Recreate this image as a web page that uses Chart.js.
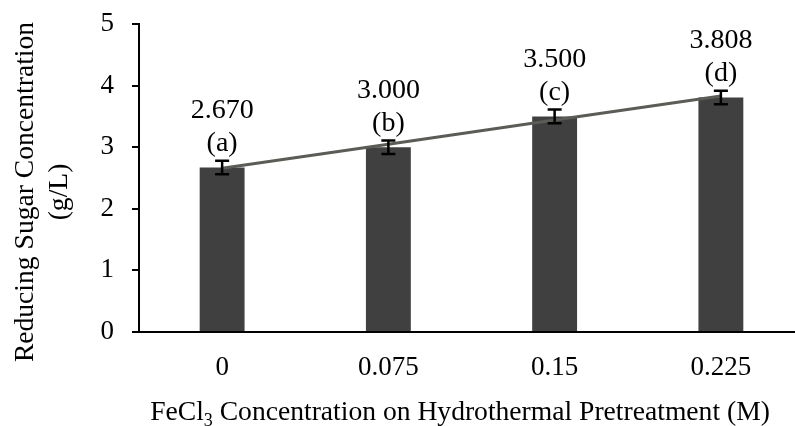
<!DOCTYPE html>
<html>
<head>
<meta charset="utf-8">
<script src="https://cdn.jsdelivr.net/npm/chart.js@4/dist/chart.umd.min.js"></script>
<style>
  html, body { margin: 0; padding: 0; background: #fff; overflow: hidden; }
  #wrap { width: 795px; height: 426px; overflow: hidden; }
</style>
</head>
<body>
<div id="wrap"><canvas id="sugarChart" width="810" height="426"></canvas></div>
<script>
// FeCl3 concentration (M) on the category axis
const categories = ['0', '0.075', '0.15', '0.225'];
// reducing sugar, g/L
const sugarValues = [2.670, 3.000, 3.500, 3.808];
const sugarErrors = [0.11, 0.11, 0.11, 0.11];
const groupLetters = ['(a)', '(b)', '(c)', '(d)'];
// linear trend line
const trendValues = [2.657, 3.049, 3.440, 3.832];
const yTicks = [0, 1, 2, 3, 4, 5];

const serif = '"Liberation Serif", "Times New Roman", serif';

// error bars on the bars (drawn above the trend line)
const errorBarPlugin = {
    id: 'errorBars',
    afterDatasetsDraw(chart) {
        const meta = chart.getDatasetMeta(0);
        const yScale = chart.scales.y;
        const ctx = chart.ctx;
        ctx.save();
        ctx.strokeStyle = '#000';
        ctx.lineWidth = 2.5;
        meta.data.forEach((bar, i) => {
            const top = yScale.getPixelForValue(sugarValues[i] + sugarErrors[i]);
            const bottom = yScale.getPixelForValue(sugarValues[i] - sugarErrors[i]);
            ctx.beginPath();
            ctx.moveTo(bar.x, top);
            ctx.lineTo(bar.x, bottom);
            ctx.moveTo(bar.x - 7, top);
            ctx.lineTo(bar.x + 7, top);
            ctx.moveTo(bar.x - 7, bottom);
            ctx.lineTo(bar.x + 7, bottom);
            ctx.stroke();
        });
        ctx.restore();
    }
};

// value + letter labels above each bar
const labelPlugin = {
    id: 'barLabels',
    afterDatasetsDraw(chart) {
        const meta = chart.getDatasetMeta(0);
        const ctx = chart.ctx;
        ctx.save();
        ctx.fillStyle = '#000';
        ctx.font = '28px ' + serif;
        ctx.textAlign = 'center';
        ctx.textBaseline = 'middle';
        meta.data.forEach((bar, i) => {
            ctx.fillText(sugarValues[i].toFixed(3), bar.x, bar.y - 57);
            ctx.fillText(groupLetters[i], bar.x, bar.y - 24);
        });
        ctx.restore();
    }
};

// axis titles (two-line y title, x title with subscript)
const titlePlugin = {
    id: 'axisTitles',
    afterDraw(chart) {
        const ctx = chart.ctx;
        ctx.save();
        ctx.fillStyle = '#000';
        ctx.textBaseline = 'middle';
        ctx.textAlign = 'center';
        ctx.font = '27.6px ' + serif;
        ctx.translate(0, 192);
        ctx.rotate(-Math.PI / 2);
        ctx.fillText('Reducing Sugar Concentration', 0, 26);
        ctx.fillText('(g/L)', 0, 60);
        ctx.restore();

        ctx.save();
        ctx.fillStyle = '#000';
        ctx.textBaseline = 'alphabetic';
        ctx.textAlign = 'left';
        const parts = [
            { t: 'FeCl', size: 27.6, dy: 0 },
            { t: '3', size: 18, dy: 6 },
            { t: ' Concentration on Hydrothermal Pretreatment (M)', size: 27.6, dy: 0 }
        ];
        let total = 0;
        parts.forEach(p => { ctx.font = p.size + 'px ' + serif; p.w = ctx.measureText(p.t).width; total += p.w; });
        let x = 460 - total / 2;
        parts.forEach(p => {
            ctx.font = p.size + 'px ' + serif;
            ctx.fillText(p.t, x, 420 + p.dy);
            x += p.w;
        });
        ctx.restore();
    }
};

const ctx = document.getElementById('sugarChart').getContext('2d');
new Chart(ctx, {
    data: {
        labels: categories,
        datasets: [
            {
                type: 'bar',
                data: sugarValues,
                backgroundColor: '#404040',
                borderWidth: 0,
                barPercentage: 0.27,
                categoryPercentage: 1,
                order: 2
            },
            {
                type: 'line',
                data: trendValues,
                borderColor: '#5b5c56',
                borderWidth: 3,
                pointRadius: 0,
                tension: 0,
                fill: false,
                order: 1
            }
        ]
    },
    options: {
        responsive: false,
        animation: false,
        layout: { padding: { top: 24, right: 6, left: 0, bottom: 0 } },
        plugins: {
            legend: { display: false },
            tooltip: { enabled: false },
            title: { display: false }
        },
        scales: {
            x: {
                grid: { display: false, drawTicks: false },
                border: { display: true, color: '#000', width: 2 },
                ticks: { color: '#000', font: { family: serif, size: 27 }, padding: 20 },
                afterFit: scale => { scale.height = 94; scale.paddingLeft = 0; scale.paddingRight = 0; }
            },
            y: {
                min: 0,
                max: 5,
                afterBuildTicks: scale => { scale.ticks = yTicks.map(v => ({ value: v })); },
                grid: { drawOnChartArea: false, drawTicks: true, tickLength: 7, color: '#000', lineWidth: 2 },
                border: { display: true, color: '#000', width: 2 },
                ticks: { color: '#000', font: { family: serif, size: 27 }, padding: 18 },
                afterFit: scale => { scale.width = 139; scale.paddingTop = 0; scale.paddingBottom = 0; }
            }
        }
    },
    plugins: [errorBarPlugin, labelPlugin, titlePlugin]
});
</script>
</body>
</html>
